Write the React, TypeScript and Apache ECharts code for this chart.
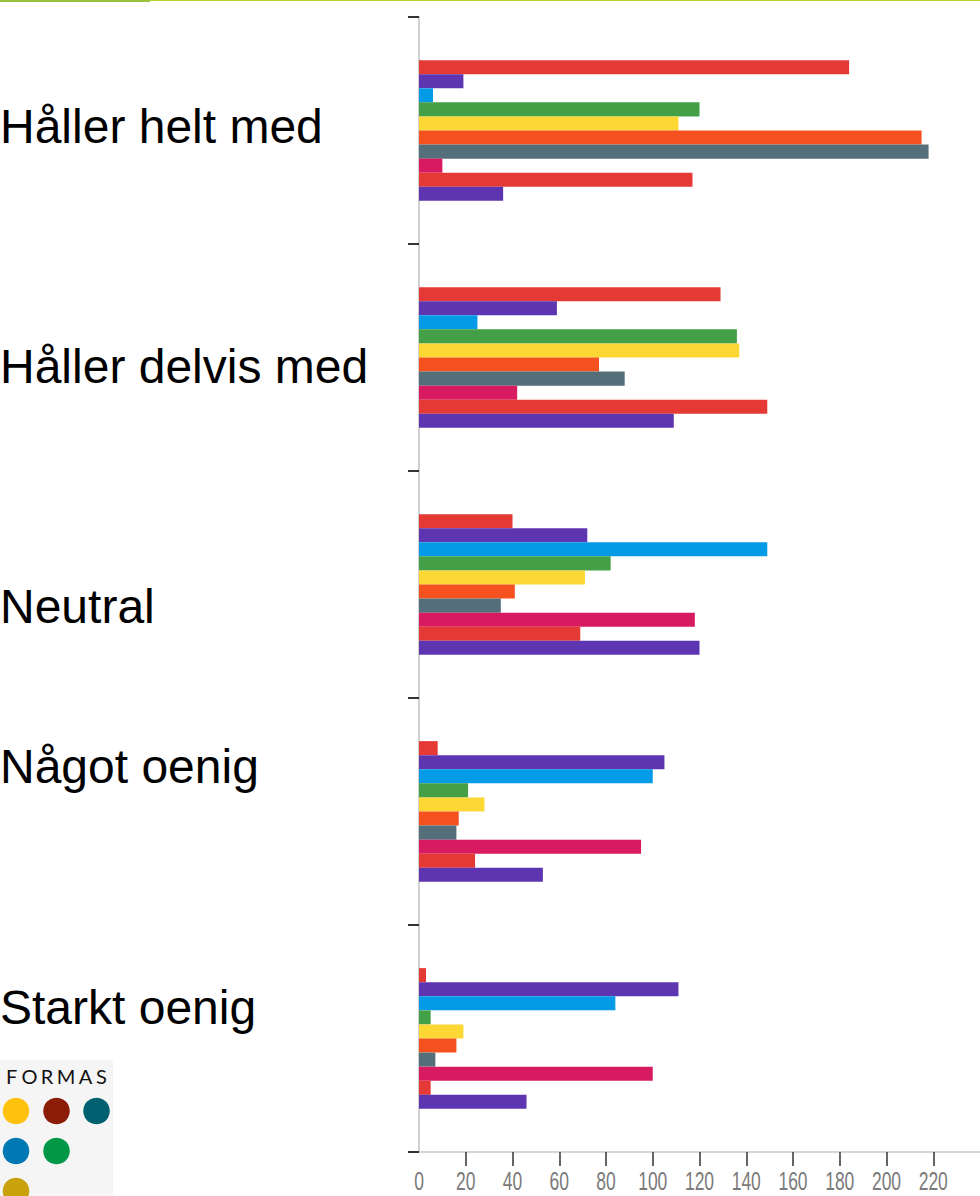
import React, { useEffect, useRef } from 'react';
import * as echarts from 'echarts';

// ---- data ----
const categories = ['Håller helt med', 'Håller delvis med', 'Neutral', 'Något oenig', 'Starkt oenig'];
const seriesNames = ['Fråga 1', 'Fråga 2', 'Fråga 3', 'Fråga 4', 'Fråga 5', 'Fråga 6', 'Fråga 7', 'Fråga 8', 'Fråga 9', 'Fråga 10'];
const s1 = [184, 129, 40, 8, 3];
const s2 = [19, 59, 72, 105, 111];
const s3 = [6, 25, 149, 100, 84];
const s4 = [120, 136, 82, 21, 5];
const s5 = [111, 137, 71, 28, 19];
const s6 = [215, 77, 41, 17, 16];
const s7 = [218, 88, 35, 16, 7];
const s8 = [10, 42, 118, 95, 100];
const s9 = [117, 149, 69, 24, 5];
const s10 = [36, 109, 120, 53, 46];
const seriesValues = [s1, s2, s3, s4, s5, s6, s7, s8, s9, s10];
const xTickValues = [20, 40, 60, 80, 100, 120, 140, 160, 180, 200, 220];
const xLabelValues = [0, 20, 40, 60, 80, 100, 120, 140, 160, 180, 200, 220];
const logoLetters = ['F', 'O', 'R', 'M', 'A', 'S'];

// ---- styles / layout ----
const seriesColors = ['#E53935', '#5E35B1', '#039BE5', '#43A047', '#FDD835', '#F4511E', '#546E7A', '#D81B60', '#E53935', '#5E35B1'];
const categoryLabelY = [126, 366, 606, 766, 1007];
const logoLetterX = [11.7, 29.5, 47, 66, 85.5, 101.5];
const logoDots = [
  { x: 16, y: 1111, c: '#FFC20E' },
  { x: 56.5, y: 1111, c: '#8B1D08' },
  { x: 96.5, y: 1111, c: '#00606F' },
  { x: 16, y: 1151, c: '#0078B4' },
  { x: 56.5, y: 1151, c: '#009846' },
  { x: 16, y: 1191, c: '#C9A10A' },
];
const FONT = '"Liberation Sans", Arial, Helvetica, sans-serif';

export default function App() {
  const ref = useRef<HTMLDivElement>(null);

  useEffect(() => {
    const chart = echarts.init(ref.current as HTMLDivElement, null, { renderer: 'svg' });
    chart.setOption({
      animation: false,
      backgroundColor: '#ffffff',
      grid: { left: 419, right: 0, top: 17, bottom: 44, containLabel: false },
      xAxis: {
        type: 'value',
        min: 0,
        max: 240,
        interval: 20,
        splitLine: { show: false },
        axisLine: { show: true, lineStyle: { color: '#d6d6d6', width: 2 } },
        axisTick: { show: true, customValues: xTickValues, length: 14, lineStyle: { color: '#333', width: 1.5 } },
        axisLabel: { show: false },
      },
      yAxis: {
        type: 'category',
        data: categories,
        inverse: true,
        axisLine: { show: true, lineStyle: { color: '#d0d0d0', width: 2 } },
        axisTick: { show: true, length: 11, lineStyle: { color: '#333', width: 2 } },
        axisLabel: { show: false },
        splitLine: { show: false },
      },
      series: seriesValues.map((vals, i) => ({
        type: 'bar',
        name: seriesNames[i],
        data: vals,
        barGap: 0,
        barCategoryGap: '38%',
        itemStyle: { color: seriesColors[i] },
      })),
    });

    const elements: any[] = [];
    // top accent line
    elements.push({ type: 'rect', shape: { x: 0, y: 0, width: 150, height: 2 }, style: { fill: '#9BC23C' } });
    elements.push({ type: 'rect', shape: { x: 150, y: 0, width: 830, height: 1 }, style: { fill: '#BDD42A' } });
    // category labels
    categories.forEach((c, i) => {
      elements.push({
        type: 'text',
        x: 0,
        y: categoryLabelY[i],
        style: { text: c, fontSize: 48, fontFamily: FONT, fill: '#000', align: 'left', verticalAlign: 'middle' },
      });
    });
    // x axis labels (narrow, tall)
    xLabelValues.forEach((v) => {
      const px = chart.convertToPixel({ xAxisIndex: 0 } as any, v) as unknown as number;
      elements.push({
        type: 'text',
        x: px,
        y: 1181,
        scaleX: 0.7,
        style: { text: String(v), fontSize: 25, fontFamily: FONT, fill: '#7a7a7a', align: 'center', verticalAlign: 'middle' },
      });
    });
    // logo
    elements.push({ type: 'rect', shape: { x: 0, y: 1060, width: 113, height: 136 }, style: { fill: '#f5f5f5' } });
    logoLetters.forEach((l, i) => {
      elements.push({
        type: 'text',
        x: logoLetterX[i],
        y: 1076,
        style: { text: l, fontSize: 20, fontFamily: 'Lato, "Open Sans", sans-serif', fill: '#111', align: 'center', verticalAlign: 'middle' },
      });
    });
    logoDots.forEach((d) => {
      elements.push({ type: 'circle', shape: { cx: d.x, cy: d.y, r: 13.3 }, style: { fill: d.c } });
    });

    chart.setOption({ graphic: { elements } });
    return () => chart.dispose();
  }, []);

  return <div ref={ref} style={{ position: 'absolute', left: 0, top: 0, width: 980, height: 1196 }} />;
}
